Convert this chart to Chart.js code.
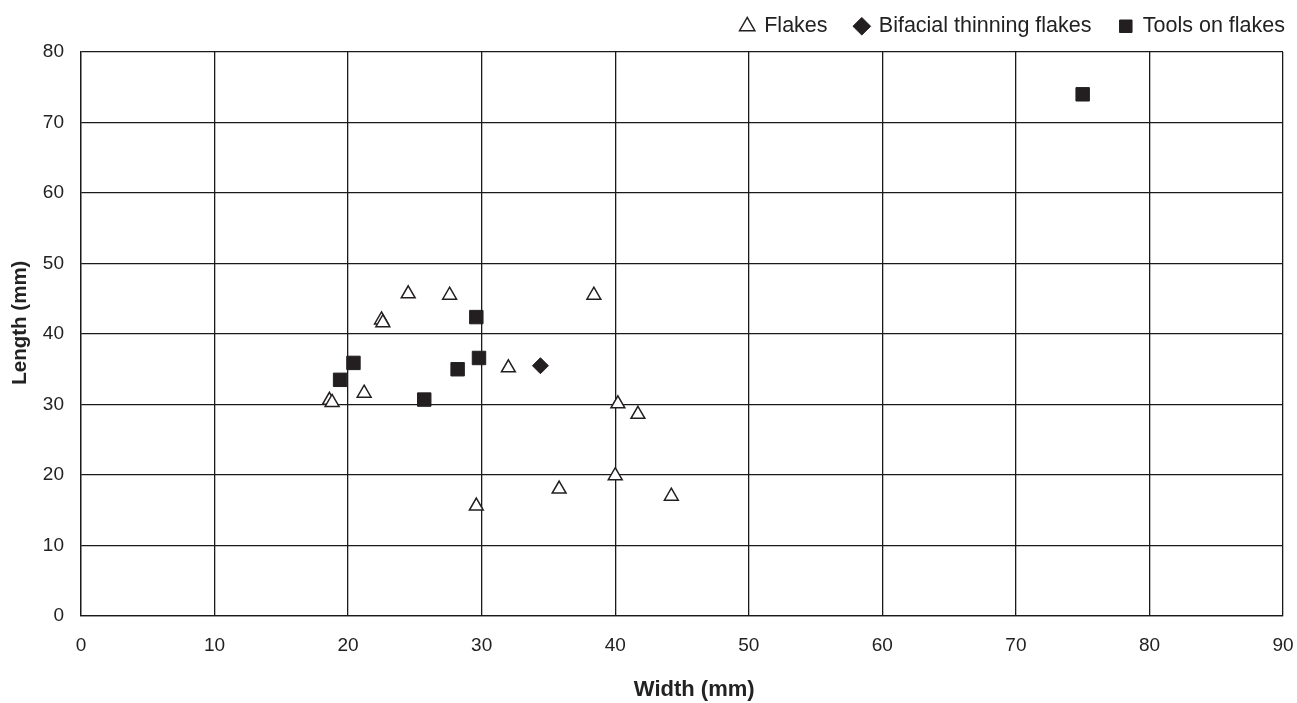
<!DOCTYPE html>
<html>
<head>
<meta charset="utf-8">
<script src="https://cdn.jsdelivr.net/npm/chart.js@4.4.0/dist/chart.umd.min.js"></script>
<style>
  html, body { margin: 0; padding: 0; background: #fff; }
  #wrap { width: 1297px; height: 703px; }
</style>
</head>
<body>
<div id="wrap"><canvas id="c" width="1297" height="703"></canvas></div>
<script>
const flakesX = [24.5, 27.6, 22.5, 22.6, 32.0, 21.2, 18.6, 18.8, 38.4, 40.2, 41.7, 40.0, 35.8, 44.2, 29.6];
const flakesY = [45.7, 45.5, 42.0, 41.6, 35.2, 31.6, 30.6, 30.3, 45.5, 30.1, 28.6, 19.9, 18.0, 17.0, 15.6];
const bifacialX = [34.4];
const bifacialY = [35.5];
const toolsX = [29.6, 29.8, 28.2, 20.4, 19.4, 25.7, 75.0];
const toolsY = [42.4, 36.6, 35.0, 35.9, 33.5, 30.7, 74.0];
const seriesNames = ['Flakes', 'Bifacial thinning flakes', 'Tools on flakes'];
const xTitle = 'Width (mm)';
const yTitle = 'Length (mm)';

const ink = '#231f20';
const toPts = (xs, ys) => xs.map((x, i) => ({x: x, y: ys[i]}));

Chart.defaults.font.family = '"Liberation Sans", Arial, sans-serif';
Chart.defaults.color = '#222';

const legendShift = {
  id: 'legendShift',
  afterLayout(chart) {
    if (chart.legend) {
      chart.legend.top -= 5;
      chart.legend.bottom -= 5;
    }
  }
};

new Chart(document.getElementById('c'), {
  type: 'scatter',
  data: {
    datasets: [
      {
        label: seriesNames[0],
        data: toPts(flakesX, flakesY),
        pointStyle: 'triangle',
        pointRadius: 8,
        pointHoverRadius: 8,
        backgroundColor: '#ffffff',
        borderColor: ink,
        borderWidth: 1.5
      },
      {
        label: seriesNames[1],
        data: toPts(bifacialX, bifacialY),
        pointStyle: 'rectRot',
        pointRadius: 8,
        pointHoverRadius: 8,
        backgroundColor: ink,
        borderColor: ink,
        borderWidth: 1
      },
      {
        label: seriesNames[2],
        data: toPts(toolsX, toolsY),
        pointStyle: 'rect',
        pointRadius: 9.5,
        pointHoverRadius: 9.5,
        backgroundColor: ink,
        borderColor: ink,
        borderWidth: 1
      }
    ]
  },
  plugins: [legendShift],
  options: {
    responsive: false,
    animation: false,
    layout: { padding: { left: 0, right: -16, top: -19, bottom: 0 } },
    plugins: {
      tooltip: { enabled: false },
      legend: {
        position: 'top',
        align: 'end',
        labels: {
          usePointStyle: true,
          boxWidth: 12.5,
          boxHeight: 12.5,
          padding: 28,
          color: '#222',
          font: { size: 21.5 }
        }
      }
    },
    scales: {
      x: {
        type: 'linear',
        min: 0,
        max: 90,
        ticks: { stepSize: 10, padding: 18, font: { size: 19 }, color: '#222' },
        grid: { color: '#1a1a1a', lineWidth: 1.3, drawTicks: false },
        border: { color: '#1a1a1a', width: 1.3 },
        title: { display: true, text: '    ' + xTitle, font: { size: 22, weight: 'bold' }, color: '#222', padding: { top: 0, bottom: 0 } },
        afterFit: (s) => { s.height = 87; s.paddingRight = 14; }
      },
      y: {
        type: 'linear',
        min: 0,
        max: 80,
        ticks: { stepSize: 10, padding: 17, font: { size: 19 }, color: '#222' },
        grid: { color: '#1a1a1a', lineWidth: 1.3, drawTicks: false },
        border: { color: '#1a1a1a', width: 1.3 },
        title: { display: true, text: '    ' + yTitle, font: { size: 20.5, weight: 'bold' }, color: '#222', padding: { top: 8, bottom: 0 } },
        afterFit: (s) => { s.width = 81; s.paddingTop = 52; }
      }
    }
  }
});
</script>
</body>
</html>
